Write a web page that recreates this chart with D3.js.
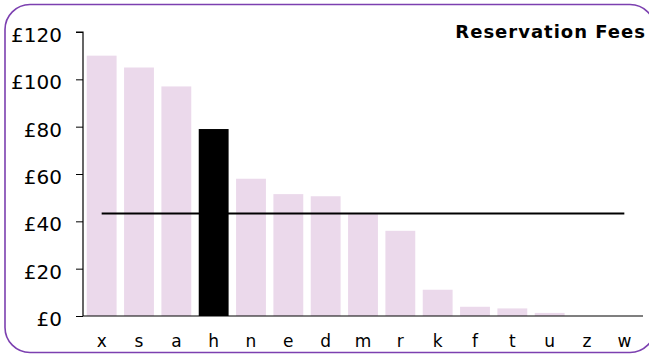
<!DOCTYPE html>
<html>
<head>
<meta charset="utf-8">
<script src="https://cdn.jsdelivr.net/npm/d3@7"></script>
<style>
html,body{margin:0;padding:0;background:#fff;}
svg{display:block;}
</style>
</head>
<body>
<script>
const categories = ["x","s","a","h","n","e","d","m","r","k","f","t","u","z","w"];
const fees = [110,105,97,79,58,51.5,50.6,43,36,11.1,3.9,3.2,1.3,0,0];
const highlighted = ["h"];
const yTicks = [0,20,40,60,80,100,120];
const title = "Reservation Fees";

const W = 649, H = 354;
const margin = {left:83, right:6, top:32, bottom:38};
const FONT = "DejaVu Sans, Verdana, sans-serif";
const svg = d3.select("body").append("svg").attr("width",W).attr("height",H);

svg.append("rect")
  .attr("x",5).attr("y",4.5).attr("width",650).attr("height",348)
  .attr("rx",25).attr("ry",25)
  .attr("fill","none").attr("stroke","#7c40b0").attr("stroke-width",1.6);

const x = d3.scaleBand().domain(categories)
  .range([margin.left, W - margin.right])
  .paddingInner(0.2).paddingOuter(0.1);
const y = d3.scaleLinear().domain([0,120]).range([H - margin.bottom, margin.top]);

const g = svg.append("g");
g.selectAll("rect.bar").data(categories).join("rect")
  .attr("class","bar")
  .attr("x", d => x(d))
  .attr("width", x.bandwidth())
  .attr("y", (d,i) => y(fees[i]))
  .attr("height", (d,i) => y(0) - y(fees[i]))
  .attr("fill", d => highlighted.includes(d) ? "none" : "#ebd9eb");

const avg = d3.mean(fees);
svg.append("line")
  .attr("x1", x(categories[0]) + x.bandwidth()/2)
  .attr("x2", x(categories[categories.length-1]) + x.bandwidth()/2)
  .attr("y1", y(avg)).attr("y2", y(avg))
  .attr("stroke","#000").attr("stroke-width",2);

g.selectAll("rect.hl").data(categories.filter(d => highlighted.includes(d))).join("rect")
  .attr("class","hl")
  .attr("x", d => x(d))
  .attr("width", x.bandwidth())
  .attr("y", d => y(fees[categories.indexOf(d)]))
  .attr("height", d => y(0) - y(fees[categories.indexOf(d)]))
  .attr("fill","#000");

const yAxis = svg.append("g")
  .attr("transform",`translate(${margin.left},0)`)
  .call(d3.axisLeft(y).tickValues(yTicks).tickFormat(d => "£" + d).tickSize(7).tickPadding(14));
yAxis.select(".domain").attr("stroke","#000").attr("stroke-width",1.2).attr("d",`M-7,${y(120)}H0V${y(0)}`);
yAxis.selectAll(".tick line").attr("stroke","#000");
yAxis.selectAll(".tick text").attr("font-family",FONT).attr("font-size",20).attr("fill","#000").attr("dy","0.48em");

const xAxis = svg.append("g")
  .attr("transform",`translate(0,${y(0)})`)
  .call(d3.axisBottom(x).tickSize(0).tickPadding(19));
xAxis.select(".domain").attr("stroke","#000").attr("stroke-width",1.2).attr("d",`M${margin.left},0H${W - margin.right}`);
xAxis.selectAll(".tick text").attr("font-family",FONT).attr("font-size",17).attr("fill","#000");

svg.append("text")
  .attr("x", 646).attr("y", 37.5)
  .attr("text-anchor","end")
  .attr("font-family",FONT)
  .attr("font-weight","bold").attr("font-size",18)
  .attr("letter-spacing",1)
  .text(title);
</script>
</body>
</html>
